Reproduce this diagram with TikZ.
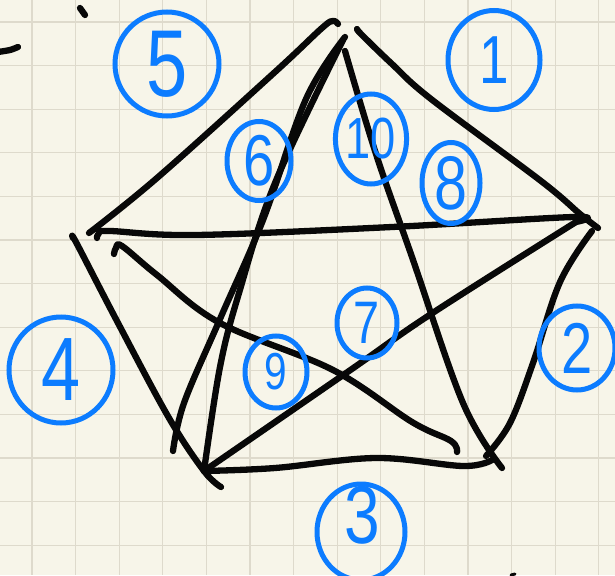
\documentclass[tikz,border=0pt]{standalone}
\usepackage{fontspec}
\usepackage{graphicx}
\setmainfont{Liberation Sans}
\usetikzlibrary{shapes.geometric}
\definecolor{paper}{RGB}{247,245,233}
\definecolor{gridc}{RGB}{222,218,204}
\definecolor{ink}{RGB}{8,8,8}
\definecolor{pen}{RGB}{12,124,255}
\newcommand{\dig}[2]{\fontsize{#1}{#1}\selectfont\scalebox{0.78}[1]{#2}}
\tikzset{
  stroke/.style={draw=ink, line width=6.3pt, line cap=round, line join=round},
  numc/.style={draw=pen, line width=5pt, ellipse, text=pen, inner sep=0pt},
  numt/.style={text=pen, inner sep=0pt},
  gridline/.style={draw=gridc, line width=1.2pt},
}
\begin{document}
\begin{tikzpicture}[x=1pt,y=-1pt]
\useasboundingbox (0,0) rectangle (615,575);
\fill[paper] (0,0) rectangle (615,575);
% grid
\foreach \i in {0,...,13} { \draw[gridline] ({32+43.6*\i},0) -- ({32+43.6*\i},575); }
\foreach \j in {0,...,12} { \draw[gridline] (0,{22+43.6*\j}) -- (615,{22+43.6*\j}); }

% vertices
\coordinate (T) at (338,24);
\coordinate (R) at (598,228);
\coordinate (BR) at (486,456);
\coordinate (BL) at (204,471);
\coordinate (L) at (73,238);

% pentagon edges
\draw[stroke] plot[smooth, tension=0.6] coordinates {(89,233) (157,178) (275,72) (322,28) (333,21) (T)};
\draw[stroke] plot[smooth, tension=0.6] coordinates {(357,29) (362,35) (392,64) (431,99) (541,181) (580,214) (R)};
\draw[stroke] plot[smooth, tension=0.6] coordinates {(592,231) (560,282) (533,363) (510,423) (BR)};
\draw[stroke] plot[smooth, tension=0.6] coordinates {(BL) (275,468) (376,458) (463,466) (492,460)};
\draw[stroke] plot[smooth, tension=0.6] coordinates {(L) (77,244) (118,323) (169,418) (BL) (221,487)};

% star diagonals
\draw[stroke] plot[smooth, tension=0.6] coordinates {(97,238) (99,233) (110,231) (196,235) (392,227) (574,217) (576,222)};
\draw[stroke] plot[smooth, tension=0.6] coordinates {(576,222) (431,314) (349,371) (BL)};
\draw[stroke] plot[smooth, tension=0.6] coordinates {(114,254) (116,248) (122,246) (157,275) (220,323) (333,370) (412,422) (451,441) (457,452)};
\draw[stroke] plot[smooth, tension=0.6] coordinates {(345,51) (376,154) (412,257) (463,403) (502,468)};
\draw[stroke] plot[smooth, tension=0.6] coordinates {(345,37) (306,99) (263,220) (220,319) (184,403) (173,451)};
\draw[stroke] plot[smooth, tension=0.6] coordinates {(343,40) (275,183) (239,293) (220,367) (BL)};

% stray marks
\draw[stroke] plot[smooth] coordinates {(-2,52) (10,50) (18,47)};
\draw[stroke] (80,8) -- (85,15);
\draw[stroke, line width=3pt] (511,575) -- (515,574);

% circled numbers
\node[numc, minimum width=104pt, minimum height=104pt] (n5) at (167,64) {\dig{95}{5}};
\node[numc, minimum width=92pt, minimum height=99pt] (n1) at (494,60) {\dig{68}{1}};
\node[numc, minimum width=104pt, minimum height=106pt] (n4) at (61,370) {\dig{90}{4}};
\node[numc, minimum width=76pt, minimum height=84pt] (n2) at (577,348) {\dig{72}{2}};
\node[numc, minimum width=88pt, minimum height=96pt] (n3) at (361,532) {};
\node[numt] (t3) at (362,515) {\dig{82}{3}};
\node[numc, minimum width=64pt, minimum height=79pt] (n6) at (259,161) {\dig{72}{6}};
\node[numc, minimum width=62pt, minimum height=90pt] (n10) at (371,139) {\dig{58}{10}};
\node[numc, minimum width=58pt, minimum height=81pt] (n8) at (451,183) {\dig{76}{8}};
\node[numc, minimum width=60pt, minimum height=70pt] (n7) at (367,323) {\dig{60}{7}};
\node[numc, minimum width=62pt, minimum height=72pt] (n9) at (276,372) {\dig{52}{9}};
\end{tikzpicture}
\end{document}
